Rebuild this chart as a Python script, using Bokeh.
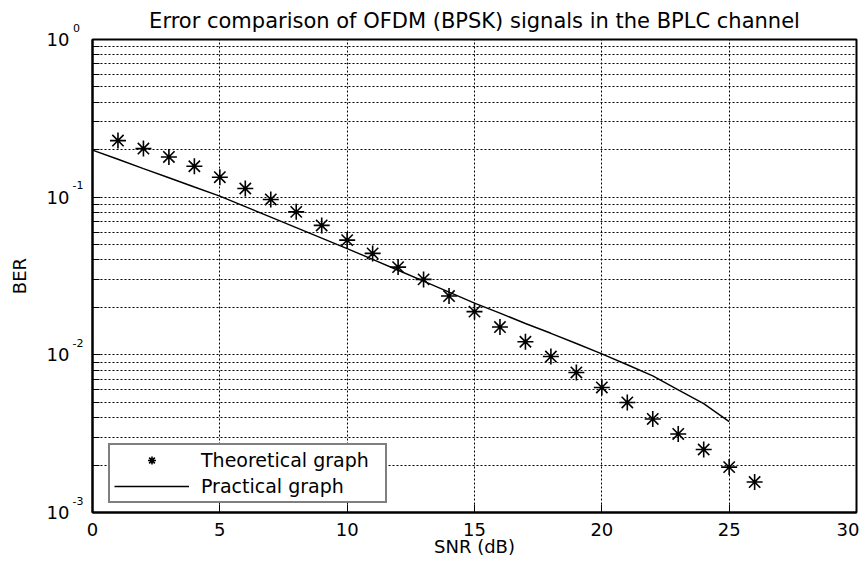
from bokeh.plotting import figure
from bokeh.models import (Legend, LegendItem, FixedTicker, LogAxis, Title,
                          ColumnDataSource, CustomJSTickFormatter)
from bokeh.embed import file_html
from bokeh.resources import INLINE

# ---- data ----
snr_theory = [1, 2, 3, 4, 5, 6, 7, 8, 9, 10, 11, 12, 13, 14, 15, 16, 17, 18,
              19, 20, 21, 22, 23, 24, 25, 26]
ber_theory = [0.2285, 0.2033, 0.1799, 0.1571, 0.1339, 0.1135, 0.0967, 0.0807,
              0.0662, 0.0534, 0.0440, 0.0360, 0.0301, 0.0236, 0.0188, 0.0150,
              0.0121, 0.00975, 0.00773, 0.00621, 0.00499, 0.00392, 0.00315,
              0.00251, 0.00194, 0.00156]

snr_practical = [0, 1, 2, 3, 4, 5, 6, 7, 8, 9, 10, 11, 12, 13, 14, 15, 16, 17,
                 18, 19, 20, 21, 22, 23, 24, 25]
ber_practical = [0.1989, 0.1739, 0.1519, 0.1328, 0.1160, 0.1015, 0.0871,
                 0.0747, 0.0641, 0.0550, 0.0472, 0.0403, 0.0344, 0.0293,
                 0.0250, 0.0213, 0.0184, 0.0158, 0.0137, 0.0118, 0.01015,
                 0.00865, 0.00736, 0.00600, 0.00490, 0.00377]

x_ticks = [0, 5, 10, 15, 20, 25, 30]
y_major = [1e-3, 1e-2, 1e-1, 1.0]
y_mantissas = [2, 3, 4, 5, 6, 7, 8, 9]
y_minor = [m * d for d in [1e-3, 1e-2, 1e-1] for m in y_mantissas]

title_text = "Error comparison of OFDM (BPSK) signals in the BPLC channel"
x_label = "SNR (dB)"
y_label = "BER"
legend_labels = ["Theoretical graph", "Practical graph"]

FONT = "DejaVu Sans"

p = figure(width=859, height=563, y_axis_type="log", x_range=(0, 30),
           y_range=(1e-3, 1.0), output_backend="svg", toolbar_location=None,
           title=None, min_border_left=92, min_border_right=3,
           min_border_top=39, min_border_bottom=51)
p.background_fill_color = "white"
p.border_fill_color = "white"
p.outline_line_color = "black"
p.outline_line_width = 2

p.add_layout(Title(text=title_text, align="center", text_font=FONT,
                   text_font_size="21px", text_font_style="normal",
                   text_color="black", standoff=13,
                   vertical_align="bottom"), "above")

xt = FixedTicker(ticks=x_ticks, minor_ticks=[])
yt = FixedTicker(ticks=y_major, minor_ticks=y_minor)

# bottom axis
xa = p.xaxis[0]
xa.ticker = xt
xa.major_tick_in = 8
xa.major_tick_out = 0
xa.minor_tick_in = 0
xa.minor_tick_out = 0
xa.axis_line_color = "black"
xa.axis_line_width = 2
xa.major_tick_line_color = "black"
xa.major_label_text_font = FONT
xa.major_label_text_font_size = "18px"
xa.major_label_text_color = "black"
xa.major_label_standoff = 10
xa.axis_label = x_label
xa.axis_label_standoff = -3
xa.axis_label_text_font = FONT
xa.axis_label_text_font_size = "18px"
xa.axis_label_text_font_style = "normal"
xa.axis_label_text_color = "black"

# inner left axis: ticks + raised exponents (superscript)
ya = p.yaxis[0]
ya.ticker = yt
ya.formatter = CustomJSTickFormatter(code="""
    const e = Math.round(Math.log10(tick));
    let s = String(e);
    if (e >= 0) { s = s + "\\u00a0"; }
    return s + "\\n\\u00a0\\n\\u00a0";
""")
ya.major_tick_in = 8
ya.major_tick_out = 0
ya.minor_tick_in = 7
ya.minor_tick_out = 0
ya.axis_line_color = "black"
ya.axis_line_width = 2
ya.major_tick_line_color = "black"
ya.minor_tick_line_color = "black"
ya.major_label_text_font = FONT
ya.major_label_text_font_size = "11px"
ya.major_label_text_line_height = 0.87
ya.major_label_text_color = "black"
ya.major_label_standoff = 9

# outer left axis: the "10" mantissas and the axis label
ya2 = LogAxis(ticker=yt, formatter=CustomJSTickFormatter(code="return '10'"),
              major_tick_in=0, major_tick_out=0, minor_tick_in=0,
              minor_tick_out=0, axis_line_color=None,
              major_tick_line_color=None, minor_tick_line_color=None,
              major_label_text_font=FONT, major_label_text_font_size="18px",
              major_label_text_color="black", major_label_standoff=0,
              axis_label=y_label, axis_label_standoff=14,
              axis_label_text_font=FONT, axis_label_text_font_size="18px",
              axis_label_text_font_style="normal",
              axis_label_text_color="black")
p.add_layout(ya2, "left")

# grids
for g in (p.xgrid, p.ygrid):
    g.grid_line_color = "black"
    g.grid_line_dash = "2 2"
    g.grid_line_width = 1
p.ygrid.minor_grid_line_color = "black"
p.ygrid.minor_grid_line_dash = "2 2"
p.ygrid.minor_grid_line_width = 1

# data
src_t = ColumnDataSource(dict(x=snr_theory, y=ber_theory))
src_p = ColumnDataSource(dict(x=snr_practical, y=ber_practical))
r_line = p.line("x", "y", source=src_p, line_color="black", line_width=1.4)
r_star = p.scatter("x", "y", source=src_t, marker="asterisk", size=16,
                   line_color="black", line_width=1.6)

legend = Legend(items=[LegendItem(label=legend_labels[0], renderers=[r_star]),
                       LegendItem(label=legend_labels[1], renderers=[r_line])],
                location=(16, 9))
legend.border_line_color = "black"
legend.border_line_width = 2
legend.background_fill_color = "white"
legend.background_fill_alpha = 1
legend.padding = 4
legend.spacing = 4
legend.margin = 0
legend.glyph_width = 75
legend.glyph_height = 20
legend.label_height = 20
legend.label_width = 180
legend.label_standoff = 12
legend.label_text_font = FONT
legend.label_text_font_size = "19px"
legend.label_text_color = "black"
p.add_layout(legend, "center")

open("out.html", "w").write(file_html(p, INLINE))
